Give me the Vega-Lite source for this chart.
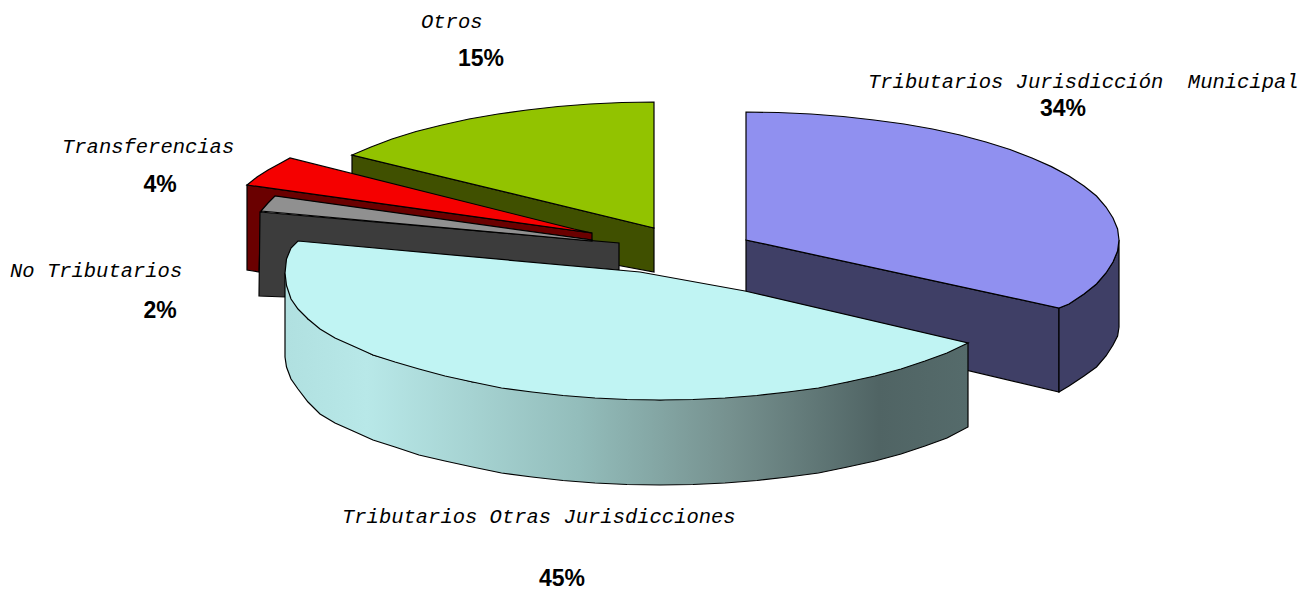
{
"$schema":"https://vega.github.io/schema/vega-lite/v6.json",
"width":1313,"height":591,"padding":0,"autosize":"none","background":"white",
"config":{"view":{"stroke":null}},
"datasets":{
"shapes":[
{"s":"greenwall","i":0,"x":352,"y":155},{"s":"greenwall","i":1,"x":654,"y":228},{"s":"greenwall","i":2,"x":654,"y":272},{"s":"greenwall","i":3,"x":600,"y":262},{"s":"greenwall","i":4,"x":352,"y":205},
{"s":"green","i":0,"x":654,"y":102},{"s":"green","i":1,"x":622,"y":102.5},{"s":"green","i":2,"x":590,"y":104},{"s":"green","i":3,"x":558,"y":106.5},{"s":"green","i":4,"x":527,"y":110},{"s":"green","i":5,"x":498,"y":114},{"s":"green","i":6,"x":469,"y":119},{"s":"green","i":7,"x":442,"y":125},{"s":"green","i":8,"x":416,"y":131.5},{"s":"green","i":9,"x":392,"y":139},{"s":"green","i":10,"x":371,"y":147},{"s":"green","i":11,"x":352,"y":155},{"s":"green","i":12,"x":654,"y":228},
{"s":"redwall","i":0,"x":247,"y":185},{"s":"redwall","i":1,"x":592,"y":233},{"s":"redwall","i":2,"x":592,"y":240},{"s":"redwall","i":3,"x":275,"y":197},{"s":"redwall","i":4,"x":261,"y":212},{"s":"redwall","i":5,"x":259,"y":272},{"s":"redwall","i":6,"x":247,"y":270},
{"s":"red","i":0,"x":247,"y":185},{"s":"red","i":1,"x":257,"y":177},{"s":"red","i":2,"x":268,"y":170},{"s":"red","i":3,"x":279,"y":164},{"s":"red","i":4,"x":290,"y":158},{"s":"red","i":5,"x":574,"y":229},{"s":"red","i":6,"x":592,"y":233},
{"s":"darkgrey","i":0,"x":260,"y":212},{"s":"darkgrey","i":1,"x":619,"y":243},{"s":"darkgrey","i":2,"x":619,"y":270},{"s":"darkgrey","i":3,"x":300,"y":245},{"s":"darkgrey","i":4,"x":285,"y":297},{"s":"darkgrey","i":5,"x":259,"y":296},
{"s":"grey","i":0,"x":261,"y":211},{"s":"grey","i":1,"x":268,"y":203},{"s":"grey","i":2,"x":275,"y":196},{"s":"grey","i":3,"x":592,"y":240},{"s":"grey","i":4,"x":592,"y":241},
{"s":"bluewall","i":0,"x":746,"y":240},{"s":"bluewall","i":1,"x":1059,"y":308},{"s":"bluewall","i":2,"x":1059,"y":392},{"s":"bluewall","i":3,"x":746,"y":318},
{"s":"bluecurve","i":0,"x":1059,"y":308},{"s":"bluecurve","i":1,"x":1069,"y":304},{"s":"bluecurve","i":2,"x":1084,"y":294},{"s":"bluecurve","i":3,"x":1096.5,"y":284},{"s":"bluecurve","i":4,"x":1106,"y":273},{"s":"bluecurve","i":5,"x":1113,"y":262},{"s":"bluecurve","i":6,"x":1117.6,"y":251},{"s":"bluecurve","i":7,"x":1119,"y":240},{"s":"bluecurve","i":8,"x":1119,"y":327},{"s":"bluecurve","i":9,"x":1117.6,"y":336},{"s":"bluecurve","i":10,"x":1113,"y":345},{"s":"bluecurve","i":11,"x":1106,"y":356},{"s":"bluecurve","i":12,"x":1096.5,"y":367},{"s":"bluecurve","i":13,"x":1084,"y":376},{"s":"bluecurve","i":14,"x":1069,"y":386},{"s":"bluecurve","i":15,"x":1059,"y":392},
{"s":"blue","i":0,"x":746,"y":112},{"s":"blue","i":1,"x":778,"y":112.5},{"s":"blue","i":2,"x":811,"y":114},{"s":"blue","i":3,"x":843,"y":116.5},{"s":"blue","i":4,"x":874,"y":120},{"s":"blue","i":5,"x":904,"y":124},{"s":"blue","i":6,"x":932.5,"y":129},{"s":"blue","i":7,"x":960,"y":135},{"s":"blue","i":8,"x":986,"y":142},{"s":"blue","i":9,"x":1010,"y":149.5},{"s":"blue","i":10,"x":1032,"y":158},{"s":"blue","i":11,"x":1051.5,"y":166.6},{"s":"blue","i":12,"x":1069,"y":176},{"s":"blue","i":13,"x":1084,"y":186},{"s":"blue","i":14,"x":1096.5,"y":196},{"s":"blue","i":15,"x":1106,"y":207},{"s":"blue","i":16,"x":1113,"y":218},{"s":"blue","i":17,"x":1117.6,"y":229},{"s":"blue","i":18,"x":1119,"y":240},{"s":"blue","i":19,"x":1117.6,"y":251},{"s":"blue","i":20,"x":1113,"y":262},{"s":"blue","i":21,"x":1106,"y":273},{"s":"blue","i":22,"x":1096.5,"y":284},{"s":"blue","i":23,"x":1084,"y":294},{"s":"blue","i":24,"x":1069,"y":304},{"s":"blue","i":25,"x":1059,"y":308},{"s":"blue","i":26,"x":746,"y":240},
{"s":"cyanwall","i":0,"x":285,"y":273},{"s":"cyanwall","i":1,"x":308,"y":319},{"s":"cyanwall","i":2,"x":373,"y":355},{"s":"cyanwall","i":3,"x":472.5,"y":382},{"s":"cyanwall","i":4,"x":660,"y":400},{"s":"cyanwall","i":5,"x":847.5,"y":382},{"s":"cyanwall","i":6,"x":968,"y":343},{"s":"cyanwall","i":7,"x":968,"y":427},{"s":"cyanwall","i":8,"x":947,"y":438},{"s":"cyanwall","i":9,"x":925,"y":446},{"s":"cyanwall","i":10,"x":901,"y":454},{"s":"cyanwall","i":11,"x":875,"y":461},{"s":"cyanwall","i":12,"x":847.5,"y":467},{"s":"cyanwall","i":13,"x":818.5,"y":473},{"s":"cyanwall","i":14,"x":788,"y":477},{"s":"cyanwall","i":15,"x":757,"y":480.5},{"s":"cyanwall","i":16,"x":725,"y":483},{"s":"cyanwall","i":17,"x":693,"y":484.5},{"s":"cyanwall","i":18,"x":660,"y":485},{"s":"cyanwall","i":19,"x":627,"y":484.5},{"s":"cyanwall","i":20,"x":595,"y":483},{"s":"cyanwall","i":21,"x":563,"y":480.5},{"s":"cyanwall","i":22,"x":532,"y":477},{"s":"cyanwall","i":23,"x":501.5,"y":473},{"s":"cyanwall","i":24,"x":472.5,"y":467},{"s":"cyanwall","i":25,"x":445,"y":461},{"s":"cyanwall","i":26,"x":419,"y":455},{"s":"cyanwall","i":27,"x":395,"y":447},{"s":"cyanwall","i":28,"x":373,"y":440},{"s":"cyanwall","i":29,"x":353,"y":431},{"s":"cyanwall","i":30,"x":335,"y":423},{"s":"cyanwall","i":31,"x":320,"y":414},{"s":"cyanwall","i":32,"x":308,"y":402},{"s":"cyanwall","i":33,"x":298,"y":389},{"s":"cyanwall","i":34,"x":291,"y":379},{"s":"cyanwall","i":35,"x":286.5,"y":367},{"s":"cyanwall","i":36,"x":285,"y":357},
{"s":"cyan","i":0,"x":298,"y":241},{"s":"cyan","i":1,"x":640,"y":272},{"s":"cyan","i":2,"x":745,"y":291},{"s":"cyan","i":3,"x":968,"y":343},{"s":"cyan","i":4,"x":947,"y":353},{"s":"cyan","i":5,"x":925,"y":361},{"s":"cyan","i":6,"x":901,"y":369},{"s":"cyan","i":7,"x":875,"y":376},{"s":"cyan","i":8,"x":847.5,"y":382},{"s":"cyan","i":9,"x":818.5,"y":388},{"s":"cyan","i":10,"x":788,"y":392},{"s":"cyan","i":11,"x":757,"y":395.5},{"s":"cyan","i":12,"x":725,"y":398},{"s":"cyan","i":13,"x":693,"y":399.5},{"s":"cyan","i":14,"x":660,"y":400},{"s":"cyan","i":15,"x":627,"y":399.5},{"s":"cyan","i":16,"x":595,"y":398},{"s":"cyan","i":17,"x":563,"y":395.5},{"s":"cyan","i":18,"x":532,"y":392},{"s":"cyan","i":19,"x":501.5,"y":388},{"s":"cyan","i":20,"x":472.5,"y":382},{"s":"cyan","i":21,"x":445,"y":376},{"s":"cyan","i":22,"x":419,"y":369},{"s":"cyan","i":23,"x":395,"y":362},{"s":"cyan","i":24,"x":373,"y":355},{"s":"cyan","i":25,"x":353,"y":346},{"s":"cyan","i":26,"x":335,"y":338},{"s":"cyan","i":27,"x":320,"y":329},{"s":"cyan","i":28,"x":308,"y":319},{"s":"cyan","i":29,"x":298,"y":309},{"s":"cyan","i":30,"x":291,"y":299},{"s":"cyan","i":31,"x":286.5,"y":285.5},{"s":"cyan","i":32,"x":285,"y":273},{"s":"cyan","i":33,"x":286.5,"y":259},{"s":"cyan","i":34,"x":291,"y":248}
],
"labels":[
{"t":"Otros","x":421,"y":28},{"t":"Tributarios Jurisdicción\u00a0\u00a0Municipal","x":868,"y":88},{"t":"Transferencias","x":62,"y":153},{"t":"No Tributarios","x":10,"y":277},{"t":"Tributarios Otras Jurisdicciones","x":342,"y":523}
],
"pcts":[
{"t":"15%","x":481,"y":66},{"t":"34%","x":1063,"y":116},{"t":"4%","x":160,"y":192},{"t":"2%","x":160,"y":318},{"t":"45%","x":562,"y":586}
]},
"data":{"name":"shapes"},
"encoding":{
"x":{"field":"x","type":"quantitative","scale":{"domain":[0,1313]},"axis":null},
"y":{"field":"y","type":"quantitative","scale":{"domain":[591,0]},"axis":null},
"order":{"field":"i","type":"quantitative"}
},
"layer":[
{"transform":[{"filter":"datum.s=='greenwall'"}],"mark":{"type":"line","interpolate":"linear-closed","fill":"#405000","stroke":"#000000","strokeWidth":1.2}},
{"transform":[{"filter":"datum.s=='green'"}],"mark":{"type":"line","interpolate":"linear-closed","fill":"#92C300","stroke":"#000000","strokeWidth":1.2}},
{"transform":[{"filter":"datum.s=='redwall'"}],"mark":{"type":"line","interpolate":"linear-closed","fill":"#6A0000","stroke":"#000000","strokeWidth":1.2}},
{"transform":[{"filter":"datum.s=='red'"}],"mark":{"type":"line","interpolate":"linear-closed","fill":"#F50000","stroke":"#000000","strokeWidth":1.2}},
{"transform":[{"filter":"datum.s=='darkgrey'"}],"mark":{"type":"line","interpolate":"linear-closed","fill":"#3C3C3C","stroke":"#000000","strokeWidth":1.2}},
{"transform":[{"filter":"datum.s=='grey'"}],"mark":{"type":"line","interpolate":"linear-closed","fill":"#909090","stroke":"#000000","strokeWidth":1.2}},
{"transform":[{"filter":"datum.s=='bluewall'"}],"mark":{"type":"line","interpolate":"linear-closed","fill":"#3F3F66","stroke":"#000000","strokeWidth":1.2}},
{"transform":[{"filter":"datum.s=='bluecurve'"}],"mark":{"type":"line","interpolate":"linear-closed","fill":"#3F3F66","stroke":"#000000","strokeWidth":1.2}},
{"transform":[{"filter":"datum.s=='blue'"}],"mark":{"type":"line","interpolate":"linear-closed","fill":"#9090F0","stroke":"#000000","strokeWidth":1.2}},
{"transform":[{"filter":"datum.s=='cyanwall'"}],"mark":{"type":"line","interpolate":"linear-closed","stroke":"#000000","strokeWidth":1.2,"fill":{"x1":0,"x2":1,"y1":0,"y2":0,"gradient":"linear","stops":[{"offset":0,"color":"#B0E0E0"},{"offset":0.12,"color":"#B8E8E8"},{"offset":0.43,"color":"#93BDBB"},{"offset":0.65,"color":"#76918F"},{"offset":0.87,"color":"#506464"},{"offset":1,"color":"#556B6B"}]}}},
{"transform":[{"filter":"datum.s=='cyan'"}],"mark":{"type":"line","interpolate":"linear-closed","fill":"#C0F4F3","stroke":"#000000","strokeWidth":1.2}},
{"data":{"name":"labels"},"mark":{"type":"text","align":"left","baseline":"alphabetic","font":"Liberation Mono","fontStyle":"italic","fontSize":20.5,"fill":"#000000"},"encoding":{"text":{"field":"t"}}},
{"data":{"name":"pcts"},"mark":{"type":"text","align":"center","baseline":"alphabetic","font":"Liberation Sans","fontWeight":"bold","fontSize":23,"fill":"#000000"},"encoding":{"text":{"field":"t"}}}
]
}
